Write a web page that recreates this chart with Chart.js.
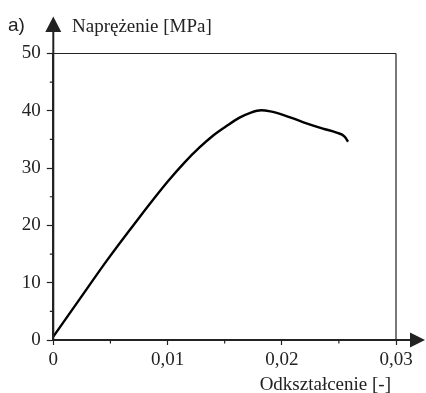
<!DOCTYPE html>
<html>
<head>
<meta charset="utf-8">
<script src="https://cdn.jsdelivr.net/npm/chart.js@4"></script>
<style>
html,body{margin:0;padding:0;background:#fff;}
#wrap{width:426px;height:393px;}
</style>
</head>
<body>
<div id="wrap"><canvas id="c" width="426" height="393"></canvas></div>
<script>
const strain = [0, 0.0024, 0.0047, 0.0075, 0.0100, 0.0115, 0.0128, 0.0140, 0.0152, 0.0163, 0.0173, 0.0182, 0.0190, 0.0201, 0.0219, 0.0236, 0.0248, 0.0255, 0.0258];
const stress = [0.6, 7.4, 13.9, 21.3, 27.6, 31.0, 33.6, 35.7, 37.4, 38.8, 39.7, 40.1, 39.9, 39.3, 38.0, 36.9, 36.2, 35.5, 34.6];
const xTicks = [0, 0.01, 0.02, 0.03];
const xTickLabels = ['0', '0,01', '0,02', '0,03'];
const xMinor = [0.005, 0.015, 0.025];
const yTicks = [0, 10, 20, 30, 40, 50];
const yMinor = [5, 15, 25, 35, 45];
const yTitle = 'Naprężenie [MPa]';
const xTitle = 'Odkształcenie [-]';
const panelLabel = 'a)';

const AX = '#222';
const serif = '"Liberation Serif", "Times New Roman", serif';

const decor = {
  id: 'decor',
  afterDraw(chart) {
    const ctx = chart.ctx;
    const a = chart.chartArea;
    const xs = chart.scales.x, ys = chart.scales.y;
    ctx.save();
    ctx.strokeStyle = AX;
    ctx.fillStyle = AX;
    // frame top and right
    ctx.lineWidth = 1.2;
    ctx.beginPath();
    ctx.moveTo(a.left, ys.getPixelForValue(50));
    ctx.lineTo(xs.getPixelForValue(0.03), ys.getPixelForValue(50));
    ctx.moveTo(xs.getPixelForValue(0.03), ys.getPixelForValue(50));
    ctx.lineTo(xs.getPixelForValue(0.03), ys.getPixelForValue(0));
    ctx.stroke();
    // axis extensions
    ctx.lineWidth = 2;
    const x0 = xs.getPixelForValue(0), y0 = ys.getPixelForValue(0);
    ctx.beginPath();
    ctx.moveTo(x0, y0);
    ctx.lineTo(x0, 30);
    ctx.moveTo(x0, y0);
    ctx.lineTo(412, y0);
    ctx.stroke();
    // arrows
    ctx.beginPath();
    ctx.moveTo(x0, 16.5);
    ctx.lineTo(x0 - 8, 32);
    ctx.lineTo(x0 + 8, 32);
    ctx.closePath();
    ctx.fill();
    ctx.beginPath();
    ctx.moveTo(425, y0);
    ctx.lineTo(410, y0 - 7.5);
    ctx.lineTo(410, y0 + 7.5);
    ctx.closePath();
    ctx.fill();
    // minor ticks
    ctx.lineWidth = 1.2;
    ctx.beginPath();
    yMinor.forEach(v => {
      const p = ys.getPixelForValue(v);
      ctx.moveTo(x0 - 3.5, p); ctx.lineTo(x0, p);
    });
    xMinor.forEach(v => {
      const p = xs.getPixelForValue(v);
      ctx.moveTo(p, y0); ctx.lineTo(p, y0 + 3.5);
    });
    ctx.stroke();
    // titles
    ctx.font = '19px ' + serif;
    ctx.textBaseline = 'alphabetic';
    ctx.textAlign = 'left';
    ctx.fillText(yTitle, 72, 32);
    ctx.textAlign = 'right';
    ctx.fillText(xTitle, 391, 390);
    ctx.font = '19px "Liberation Sans", Arial, sans-serif';
    ctx.textAlign = 'left';
    ctx.fillText(panelLabel, 8, 31);
    ctx.restore();
  }
};

new Chart(document.getElementById('c'), {
  type: 'scatter',
  data: {
    datasets: [{
      data: strain.map((x, i) => ({x: x, y: stress[i]})),
      showLine: true,
      borderColor: '#000',
      borderWidth: 2.4,
      pointRadius: 0,
      cubicInterpolationMode: 'monotone',
      fill: false
    }]
  },
  options: {
    responsive: false,
    animation: false,
    devicePixelRatio: 1,
    layout: { padding: { top: 53.5, right: 30, left: 0, bottom: 0 } },
    plugins: { legend: { display: false }, tooltip: { enabled: false } },
    scales: {
      x: {
        type: 'linear', min: 0, max: 0.03,
        afterFit(s) { s.height = 53; },
        afterBuildTicks(s) { s.ticks = xTicks.map(v => ({value: v})); },
        ticks: {
          color: AX, padding: 4, maxRotation: 0, autoSkip: false,
          font: { family: serif, size: 19 },
          callback(v) { const i = xTicks.indexOf(v); return i >= 0 ? xTickLabels[i] : ''; }
        },
        grid: { drawOnChartArea: false, drawTicks: true, tickLength: 5, tickColor: AX, tickWidth: 1.2 },
        border: { display: true, color: AX, width: 2 }
      },
      y: {
        type: 'linear', min: 0, max: 50,
        afterFit(s) { s.width = 53.3; },
        afterBuildTicks(s) { s.ticks = yTicks.map(v => ({value: v})); },
        ticks: {
          color: AX, padding: 6, autoSkip: false,
          font: { family: serif, size: 19 }
        },
        grid: { drawOnChartArea: false, drawTicks: true, tickLength: 6.5, tickColor: AX, tickWidth: 1.2 },
        border: { display: true, color: AX, width: 2 }
      }
    }
  },
  plugins: [decor]
});
</script>
</body>
</html>
